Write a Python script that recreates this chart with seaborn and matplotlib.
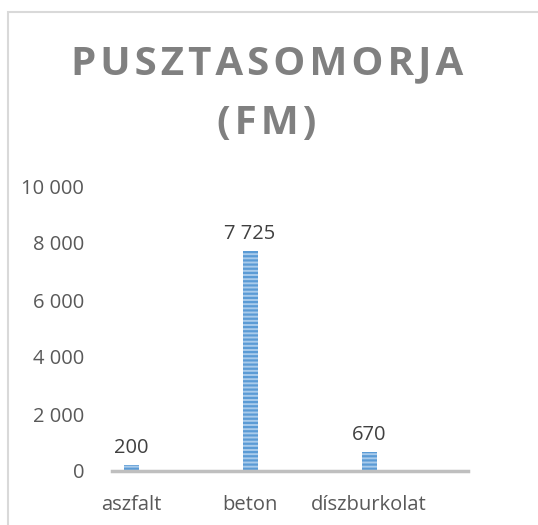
import pandas as pd
import seaborn as sns
import matplotlib.pyplot as plt
from matplotlib.patches import Rectangle
from matplotlib.ticker import FuncFormatter

categories = ['aszfalt', 'beton', 'díszburkolat']
values = [200, 7725, 670]
title_lines = ['PUSZTASOMORJA', '(FM)']

df = pd.DataFrame({'category': categories, 'value': values})

sns.set_style('white')
plt.rcParams['font.family'] = ['Open Sans', 'DejaVu Sans']
plt.rcParams['hatch.linewidth'] = 1.6
plt.rcParams['hatch.color'] = '#5B9BD5'

fig = plt.figure(figsize=(5.38, 5.25), dpi=100)
ax = fig.add_axes([112 / 538, 54 / 525, 356 / 538, 285 / 525])

sns.barplot(data=df, x='category', y='value', color='#A9CBEB', width=0.126,
            saturation=1, ax=ax)
for bar in ax.patches:
    bar.set_hatch('----')
    bar.set_edgecolor('#5B9BD5')
    bar.set_linewidth(0)

# Data labels
ax.bar_label(ax.containers[0], labels=[f'{v:,}'.replace(',', ' ') for v in values],
             padding=5, fontsize=14.5, color='#404040')

ax.set_ylim(0, 10000)
ax.set_xlim(-0.16, 2.83)
ax.set_yticks(range(0, 10001, 2000))
ax.yaxis.set_major_formatter(FuncFormatter(lambda v, p: f'{int(v):,}'.replace(',', ' ')))
ax.tick_params(axis='y', length=0, pad=20, labelsize=14.5, labelcolor='#595959')
ax.tick_params(axis='x', length=0, pad=17, labelsize=14.5, labelcolor='#595959')
ax.set_xlabel('')
ax.set_ylabel('')

for side in ['top', 'right', 'left']:
    ax.spines[side].set_visible(False)
ax.spines['bottom'].set_color('#BFBFBF')
ax.spines['bottom'].set_linewidth(2.5)

# Title with wide letter spacing
for i, line in enumerate(title_lines):
    fig.text(267 / 538, 1 - (64 + 60 * i) / 525, '\u200a'.join(line),
             ha='center', va='center', fontsize=29, fontweight='bold',
             color='#808080')

# Chart frame
fig.patches.append(Rectangle((8 / 538, -0.1), 1.2, 1.1 - 12 / 525,
                             transform=fig.transFigure, fill=False,
                             edgecolor='#D9D9D9', linewidth=1.5))

plt.savefig('out.png', dpi=100)
